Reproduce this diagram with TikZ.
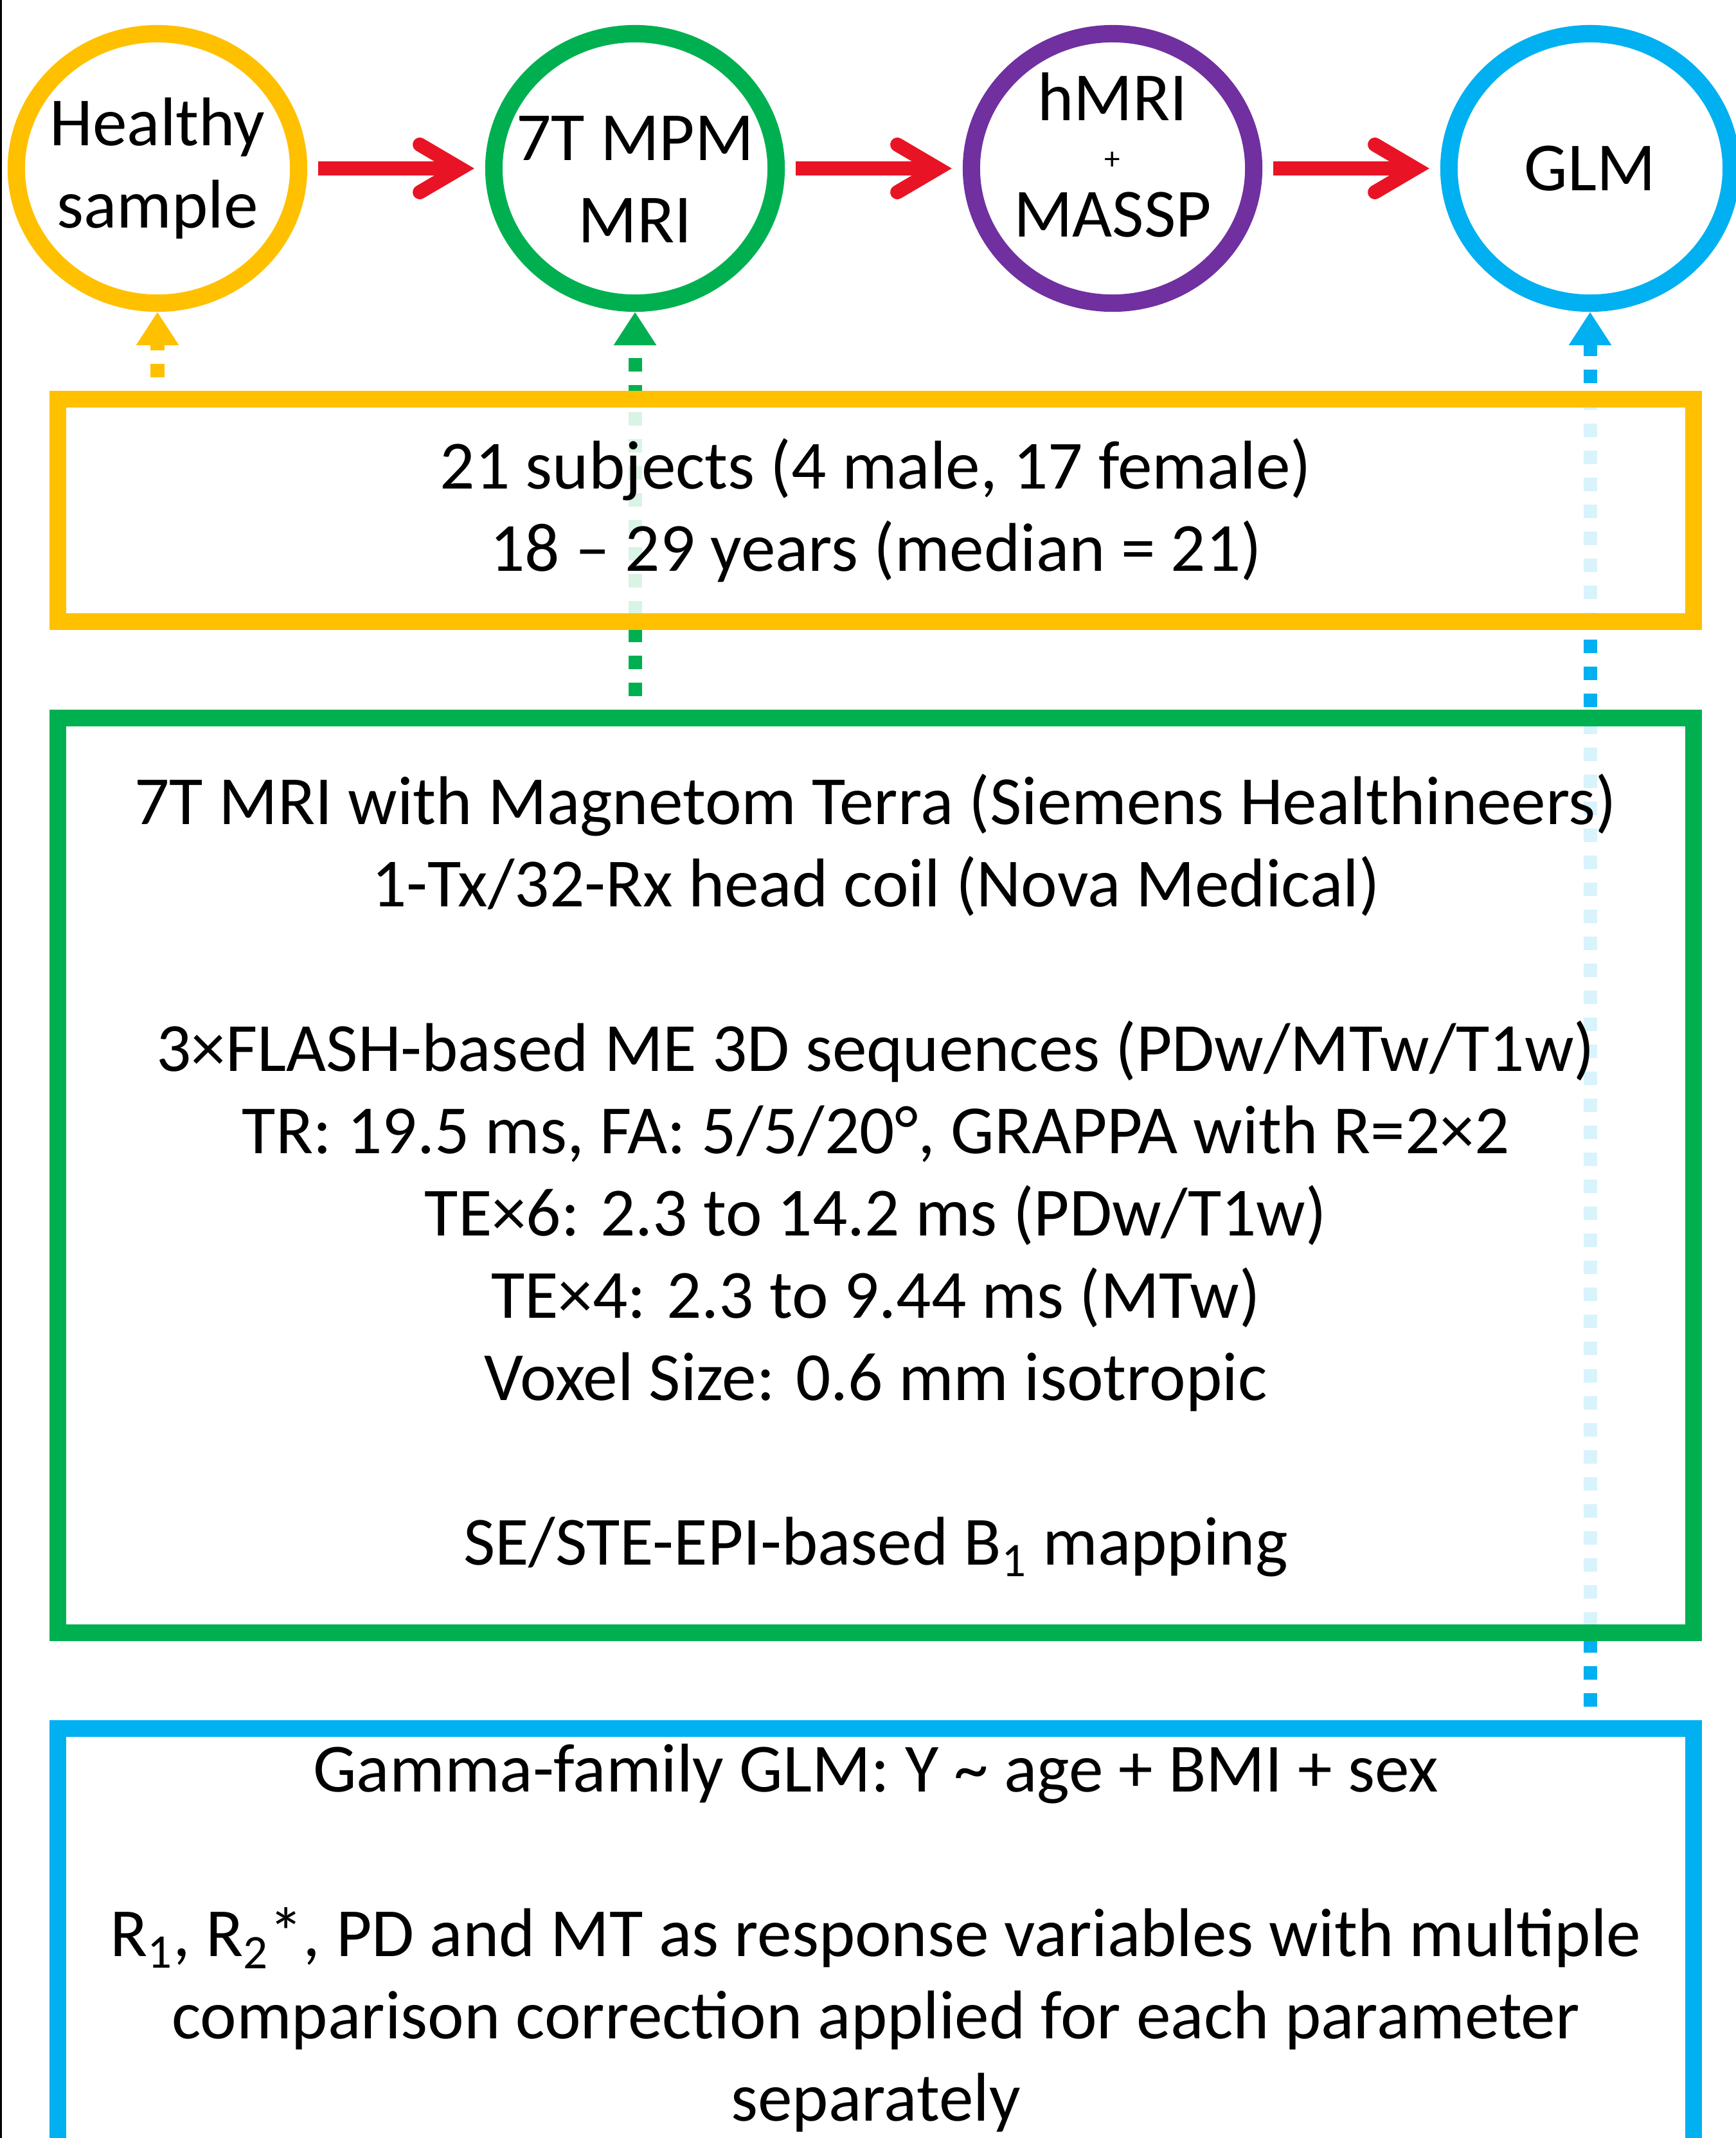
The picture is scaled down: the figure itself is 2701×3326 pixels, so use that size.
\documentclass[tikz,border=0pt]{standalone}
\usepackage{fontspec}
\setmainfont{Carlito}
\usepackage{xcolor}
\usepackage{tikz}
\usetikzlibrary{positioning, calc, arrows.meta, shapes.geometric}
\pgfdeclarelayer{background}
\pgfsetlayers{background,main}
\definecolor{gold}{HTML}{FFC000}
\definecolor{leaf}{HTML}{00B050}
\definecolor{plum}{HTML}{7030A0}
\definecolor{sky}{HTML}{00B0F0}
\definecolor{alert}{HTML}{E81425}

\begin{document}
\begin{tikzpicture}[x=0.01cm, y=-0.01cm,
    font=\fontsize{30.5pt}{36.4pt}\selectfont,
    stage/.style={ellipse, draw=#1, line width=0.27cm, minimum width=4.39cm,
        minimum height=4.19cm, inner sep=-0.6cm, align=center},
    panel/.style={rectangle, draw=#1, line width=0.26cm, fill=white,
        fill opacity=0.85, text opacity=1, minimum width=25.43cm,
        inner sep=0pt, align=center},
    flow/.style={alert, line width=0.22cm,
        -{Straight Barb[length=0.63cm, width=0.74cm, line cap=round, line join=miter]},
        shorten <=0.17cm, shorten >=0.17cm},
    link/.style={#1, line width=0.21cm, dash pattern=on 0.21cm off 0.21cm,
        dash phase=0.21cm, -{Triangle[length=0.52cm, width=0.63cm]}}]

    \useasboundingbox (0,0) rectangle (2701,3326);

    % --- Page edge ---
    \draw[line width=0.03cm] (1.5,0) -- (1.5,3326);

    % --- Pipeline stages ---
    \node[stage=gold] (healthy) at (245,262) {Healthy\\sample};
    \node[stage=leaf] (mpm) at (988,262) {\rule{0pt}{29pt}7T MPM\\MRI};
    \node[stage=plum] (hmri) at (1731,262)
        {hMRI\\[-14.8pt]{\fontsize{14pt}{14pt}\selectfont +}\\[-6.4pt]MASSP\rule[-12pt]{0pt}{12pt}};
    \node[stage=sky] (glm) at (2474,262) {GLM};

    % --- Detail panels ---
    \node[panel=gold, minimum height=3.46cm] (sample) at (1362.5,794)
        {21 subjects (4 male, 17 female)\\18 -- 29 years (median = 21)};
    \node[panel=leaf, minimum height=14.23cm] (protocol) at (1362.5,1828.5)
        {7T MRI with Magnetom Terra (Siemens Healthineers)\\
         1-Tx/32-Rx head coil (Nova Medical)\\[36.4pt]
         3×FLASH-based ME 3D sequences (PDw/MTw/T1w)\\
         TR: 19.5 ms, FA: 5/5/20°, GRAPPA with R=2×2\\
         TE×6: 2.3 to 14.2 ms (PDw/T1w)\\
         TE×4: 2.3 to 9.44 ms (MTw)\\
         Voxel Size: 0.6 mm isotropic\\[36.4pt]
         SE/STE-EPI-based B\textsubscript{1} mapping};
    \node[panel=sky, minimum height=6.52cm] (model) at (1362.5,3015)
        {Gamma-family GLM: Y \textasciitilde{} age + BMI + sex\\[36.4pt]
         R\textsubscript{1}, R\textsubscript{2}*, PD and MT as response variables with multiple\\
         comparison correction applied for each parameter\\
         separately};

    % --- Flow between stages ---
    \draw[flow] (healthy) -- (mpm);
    \draw[flow] (mpm) -- (hmri);
    \draw[flow] (hmri) -- (glm);

    % --- Dotted links, behind the panels ---
    \begin{pgfonlayer}{background}
        \draw[link=gold] (healthy.south |- sample.north) -- (healthy.south);
        \draw[link=leaf] (mpm.south |- protocol.north) -- (mpm.south);
        \draw[link=sky] (glm.south |- model.north) -- (glm.south);
    \end{pgfonlayer}

\end{tikzpicture}
\end{document}
